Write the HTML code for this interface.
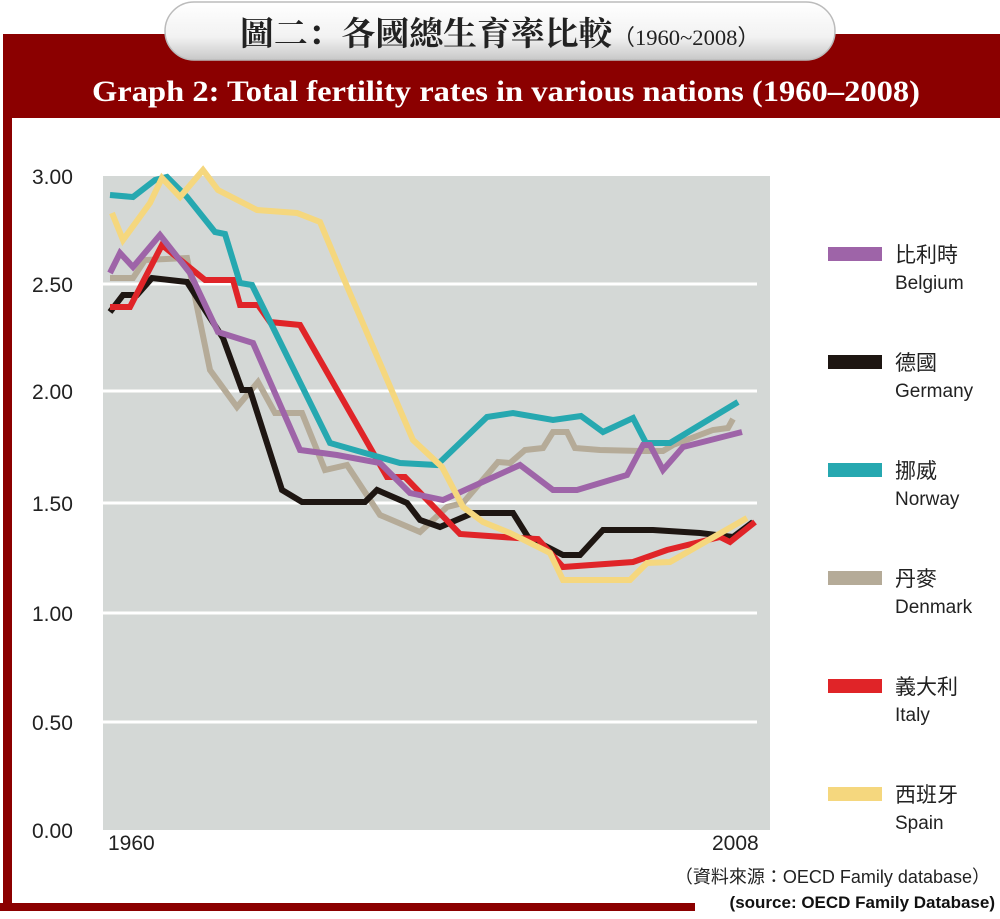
<!DOCTYPE html>
<html><head><meta charset="utf-8">
<style>
html,body{margin:0;padding:0;background:#fff;}
body{width:1000px;height:914px;position:relative;overflow:hidden;font-family:"Liberation Sans","Noto Sans CJK TC",sans-serif;}
</style></head><body>
<svg width="1000" height="914" viewBox="0 0 1000 914" xmlns="http://www.w3.org/2000/svg">
<defs>
<linearGradient id="pill" x1="0" y1="0" x2="0" y2="1">
<stop offset="0" stop-color="#ffffff"/><stop offset="0.6" stop-color="#f2f2f2"/><stop offset="1" stop-color="#c8c8c8"/>
</linearGradient>
</defs>
<rect x="3" y="34" width="997" height="84" fill="#8b0000"/>
<rect x="3" y="34" width="9" height="876" fill="#8b0000"/>
<rect x="0" y="903" width="695" height="8" fill="#8b0000"/>
<rect x="165" y="2" width="670" height="58" rx="29" fill="url(#pill)" stroke="#bbb" stroke-width="1.5"/>
<text x="240" y="45" textLength="520" lengthAdjust="spacingAndGlyphs" font-family="'Noto Serif CJK SC','Liberation Serif',serif" font-size="33" font-weight="bold" fill="#222">圖二：各國總生育率比較<tspan font-size="22" font-weight="normal" font-family="'Liberation Serif',serif">（1960~2008）</tspan></text>
<text x="92" y="101" textLength="828" lengthAdjust="spacingAndGlyphs" font-family="'Liberation Serif',serif" font-size="30" font-weight="bold" fill="#fff">Graph 2:  Total fertility rates in various nations (1960–2008)</text>
<rect x="103" y="176" width="667" height="654" fill="#d4d8d6"/>
<g stroke="#fff" stroke-width="3">
<line x1="103" y1="284" x2="757" y2="284"/><line x1="103" y1="391" x2="757" y2="391"/>
<line x1="103" y1="503" x2="757" y2="503"/><line x1="103" y1="613" x2="757" y2="613"/>
<line x1="103" y1="722" x2="757" y2="722"/>
</g>
<g font-size="21" fill="#222">
<text x="32" y="184">3.00</text><text x="32" y="292">2.50</text><text x="32" y="399">2.00</text>
<text x="32" y="511">1.50</text><text x="32" y="621">1.00</text><text x="32" y="730">0.50</text>
<text x="32" y="838">0.00</text>
<text x="108" y="850">1960</text><text x="712" y="850">2008</text>
</g>
<g fill="none" stroke-width="6" stroke-linejoin="miter">
<polyline stroke="#b5ab98" points="110,278 133,278 145,260 187,258 210,370 237,407 258,382 275,413 302,413 325,470 347,465 380,515 420,532 447,507 463,503 498,462 510,463 525,450 543,448 553,432 567,432 575,448 600,450 643,451 663,451 673,445 713,430 728,428 733,419"/>
<polyline stroke="#1e1612" points="110,312 123,295 137,295 152,278 187,282 223,338 242,390 250,390 282,490 302,502 365,502 377,490 407,503 420,520 440,527 473,513 513,513 528,537 563,555 580,555 603,530 653,530 700,533 733,537 753,522"/>
<polyline stroke="#e02428" points="110,307 130,307 162,245 205,280 233,280 240,305 258,305 270,322 300,325 387,477 405,477 460,534 517,538 538,539 563,567 633,562 667,550 720,537 730,542 755,522"/>
<polyline stroke="#26a8b0" points="110,195 133,197 155,180 167,177 187,197 215,232 225,234 240,283 252,285 330,443 400,463 437,465 487,417 513,413 553,420 581,416 603,432 633,418 646,443 670,443 738,402"/>
<polyline stroke="#9e64a8" points="110,273 120,253 133,267 160,235 190,273 218,332 253,343 300,450 337,455 380,463 410,493 443,500 520,465 553,490 577,490 627,475 643,445 650,445 663,470 683,447 742,432"/>
<polyline stroke="#f5d77e" points="112,213 123,240 150,203 162,178 180,197 203,170 218,190 257,210 297,213 320,222 343,277 413,440 442,467 463,507 483,522 510,533 550,553 563,580 630,580 647,563 670,562 747,518"/>
</g>
<g>
<rect x="828" y="247" width="54" height="14" fill="#9e64a8"/>
<rect x="828" y="355" width="54" height="14" fill="#1e1612"/>
<rect x="828" y="463" width="54" height="14" fill="#26a8b0"/>
<rect x="828" y="571" width="54" height="14" fill="#b5ab98"/>
<rect x="828" y="679" width="54" height="14" fill="#e02428"/>
<rect x="828" y="787" width="54" height="14" fill="#f5d77e"/>
</g>
<g font-size="21" fill="#222">
<text x="895" y="262">比利時</text><text x="895" y="289" font-size="19">Belgium</text>
<text x="895" y="370">德國</text><text x="895" y="397" font-size="19">Germany</text>
<text x="895" y="478">挪威</text><text x="895" y="505" font-size="19">Norway</text>
<text x="895" y="586">丹麥</text><text x="895" y="613" font-size="19">Denmark</text>
<text x="895" y="694">義大利</text><text x="895" y="721" font-size="19">Italy</text>
<text x="895" y="802">西班牙</text><text x="895" y="829" font-size="19">Spain</text>
</g>
<text x="990" y="883" text-anchor="end" font-size="18" fill="#222">（資料來源：OECD Family database）</text>
<text x="995" y="908" text-anchor="end" font-size="17" font-weight="bold" fill="#111">(source: OECD Family Database)</text>
</svg>
</body></html>
